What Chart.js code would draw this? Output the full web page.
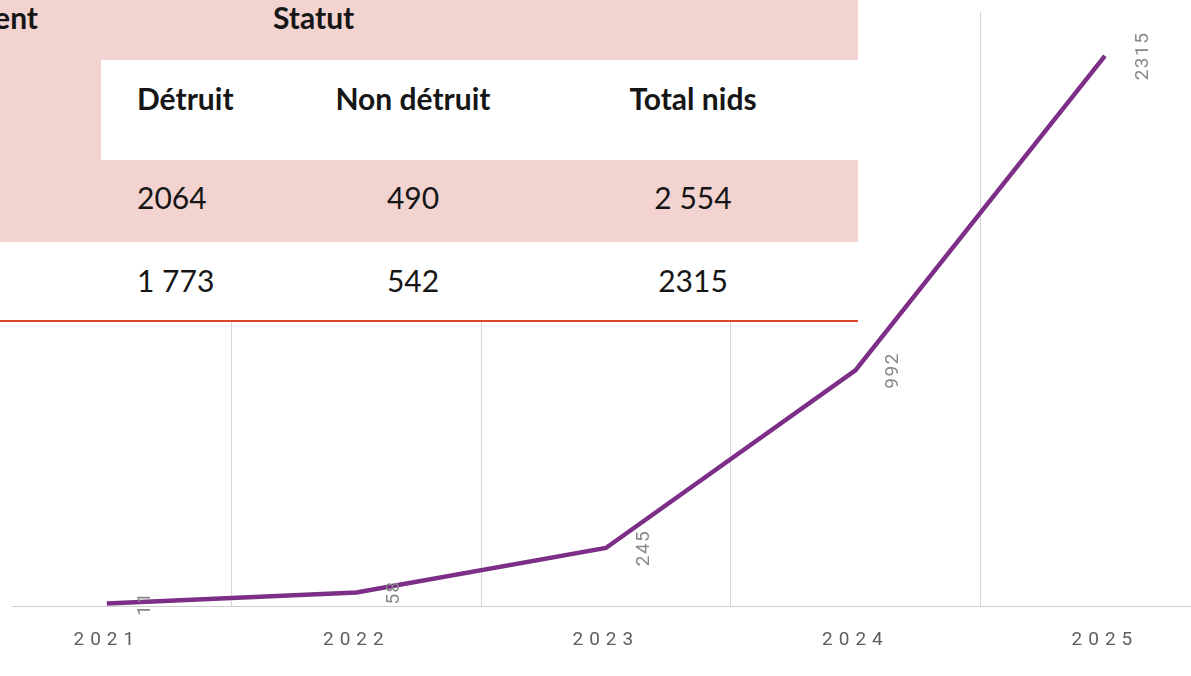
<!DOCTYPE html>
<html lang="fr">
<head>
<meta charset="utf-8">
<script src="https://cdn.jsdelivr.net/npm/chart.js@4.4.1/dist/chart.umd.min.js"></script>
<style>
  html, body { margin: 0; padding: 0; background: #fff; overflow: hidden; }
  #zone { position: relative; width: 1191px; height: 676px; }
  #graphique { position: absolute; left: 0; top: 0; }
  #tableau { position: absolute; left: 0; top: 0; width: 858px; height: 322px; background: #fff; font-family: Lato, "Noto Sans", sans-serif; color: #161616; }
  #tableau div { position: absolute; }
  .rose { background: #f2d3d0; }
  .txt { font-size: 30px; line-height: 40px; white-space: nowrap; }
  .gras { font-weight: bold; }
  .centre { text-align: center; width: 240px; }
</style>
</head>
<body>
<div id="zone">
  <canvas id="graphique" width="1191" height="676"></canvas>
  <div id="tableau"></div>
</div>
<script>
// valeurs du graphique
const annees = [2021, 2022, 2023, 2024, 2025];
const nids = [11, 58, 245, 992, 2315];

// valeurs du tableau
const entetes = ['Détruit', 'Non détruit', 'Total nids'];
const ligneA = ['2064', '490', '2 554'];
const ligneB = ['1 773', '542', '2315'];

function construireTableau() {
  const t = document.getElementById('tableau');
  let html = '';
  html += '<div class="rose" style="left:0;top:0;width:858px;height:60px"></div>';
  html += '<div class="rose" style="left:0;top:60px;width:101px;height:100px"></div>';
  html += '<div class="rose" style="left:0;top:160px;width:858px;height:82px"></div>';
  html += '<div style="left:0;top:320px;width:858px;height:2px;background:#d9452d"></div>';
  html += '<div class="txt gras" style="right:820px;top:-3px">Département</div>';
  html += '<div class="txt gras" style="left:273px;top:-3px">Statut</div>';

  const lignes = [
    { valeurs: entetes, top: 78, gras: true },
    { valeurs: ligneA, top: 177, gras: false },
    { valeurs: ligneB, top: 260, gras: false }
  ];
  lignes.forEach(l => {
    const cls = 'txt' + (l.gras ? ' gras' : '');
    html += '<div class="' + cls + '" style="left:137px;top:' + l.top + 'px">' + l.valeurs[0] + '</div>';
    html += '<div class="' + cls + ' centre" style="left:293px;top:' + l.top + 'px">' + l.valeurs[1] + '</div>';
    html += '<div class="' + cls + ' centre" style="left:573px;top:' + l.top + 'px">' + l.valeurs[2] + '</div>';
  });
  t.innerHTML = html;
}

const etiquettes = {
  id: 'etiquettes',
  beforeDraw(chart) {
    chart.ctx.letterSpacing = '6px';
  },
  beforeDatasetsDraw(chart) {
    chart.ctx.letterSpacing = '0px';
  },
  afterDatasetsDraw(chart) {
    const ctx = chart.ctx;
    const meta = chart.getDatasetMeta(0);
    ctx.save();
    ctx.font = '19px Roboto';
    ctx.fillStyle = '#888';
    ctx.letterSpacing = '1.5px';
    ctx.textAlign = 'center';
    ctx.textBaseline = 'middle';
    meta.data.forEach((pt, i) => {
      ctx.save();
      ctx.translate(pt.x + 38, pt.y);
      ctx.rotate(-Math.PI / 2);
      ctx.fillText(String(nids[i]), 0, 0);
      ctx.restore();
    });
    ctx.restore();
  }
};

function dessinerGraphique() {
  const ctx = document.getElementById('graphique').getContext('2d');
  const ticksX = annees.flatMap(a => [a, a + 0.5]).slice(0, -1);

  new Chart(ctx, {
    type: 'line',
    data: {
      datasets: [{
        label: 'Nids',
        data: annees.map((a, i) => ({ x: a, y: nids[i] })),
        borderColor: '#7d2e86',
        borderWidth: 4.5,
        pointRadius: 0,
        tension: 0,
        fill: false
      }]
    },
    options: {
      responsive: false,
      animation: false,
      layout: { padding: { left: 12, top: 12, right: 0, bottom: 1 } },
      plugins: { legend: { display: false }, tooltip: { enabled: false } },
      scales: {
        x: {
          type: 'linear',
          min: 2020.62,
          max: 2025.345,
          afterBuildTicks: s => { s.ticks = ticksX.map(v => ({ value: v })); },
          grid: {
            drawTicks: false,
            color: c => (c.tick && c.tick.value % 1 !== 0) ? '#d6d6d6' : 'rgba(0,0,0,0)'
          },
          border: { color: '#cfcfcf', width: 1 },
          ticks: {
            autoSkip: false,
            maxRotation: 0,
            padding: 23,
            color: '#5e5e5e',
            font: { family: 'Roboto', size: 19 },
            callback: v => Number.isInteger(v) ? String(v) : ''
          }
        },
        y: { display: false, min: 0, max: 2500 }
      }
    },
    plugins: [etiquettes]
  });
}

construireTableau();
document.addEventListener('DOMContentLoaded', dessinerGraphique);
</script>
</body>
</html>
